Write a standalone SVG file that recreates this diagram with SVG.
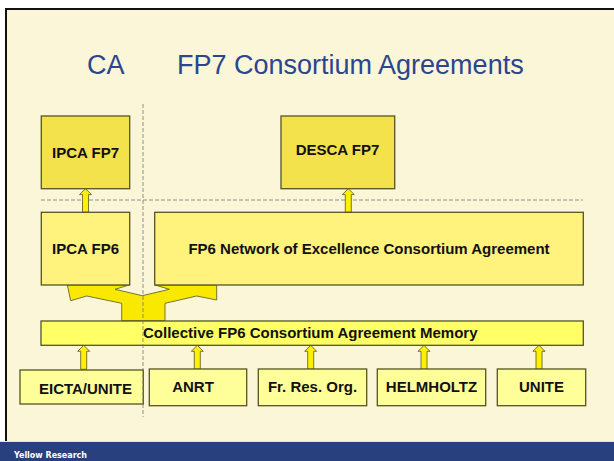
<svg xmlns="http://www.w3.org/2000/svg" width="614" height="461" viewBox="0 0 614 461">
<defs>
<style>
.box{stroke:#55551f;stroke-width:1.3}
.fp7{fill:#f3e24b}
.fp6{fill:#fff27d}
.mem{fill:#ffff66}
.src{fill:#ffff99}
.lbl{font-family:"Liberation Sans",Arial,sans-serif;font-weight:bold;font-size:15px;fill:#111;text-anchor:middle}
.arr{fill:#fff000;stroke:#55551f;stroke-width:0.8}
.dash{stroke:#777;stroke-width:0.8;stroke-dasharray:4 2;fill:none}
</style>
<path id="up" d="M-3,24 L-3,6 L-6,6 L0,0 L6,6 L3,6 L3,24 Z"/>
</defs>
<rect x="0" y="0" width="614" height="461" fill="#ffffff"/>
<rect x="6" y="9" width="610" height="440" fill="#faf6d7" stroke="#111" stroke-width="2"/>
<rect x="0" y="442" width="614" height="19" fill="#28417e"/>
<line x1="0" y1="441.5" x2="614" y2="441.5" stroke="#e8e4c8" stroke-width="1"/>
<text x="14" y="458" font-family="'DejaVu Sans Condensed','Liberation Sans',sans-serif" font-weight="bold" font-size="9.5" fill="#ffffff" textLength="73" lengthAdjust="spacingAndGlyphs">Yellow Research</text>
<text x="87" y="74" font-family="'Liberation Sans',Arial,sans-serif" font-size="27" fill="#2b4591">CA</text>
<text x="177" y="74" font-family="'Liberation Sans',Arial,sans-serif" font-size="27" fill="#2b4591">FP7 Consortium Agreements</text>
<g id="guides">
<line class="dash" x1="41" y1="200" x2="583" y2="200"/>
</g>
<g id="connectors">
<polygon class="arr" fill="#f9e800" points="67.3,285 70.7,300.7 86.7,296 121.7,303.3 121.7,320.7 165,320.7 165,303.3 196.7,296 216.7,300 216.7,285 155,285 169.3,289.3 142.3,295.7 115,289.3 129.3,285" style="fill:#f9e800"/>
<use href="#up" class="arr" transform="translate(85.5,188.7) scale(1,0.98)"/>
<use href="#up" class="arr" transform="translate(348.3,188.7) scale(1,0.98)"/>
<use href="#up" class="arr" transform="translate(83.7,345.3)"/>
<use href="#up" class="arr" transform="translate(197.3,345.3)"/>
<use href="#up" class="arr" transform="translate(310.7,345.3)"/>
<use href="#up" class="arr" transform="translate(424,345.3)"/>
<use href="#up" class="arr" transform="translate(539,345.3)"/>
</g>
<g id="ipca-fp7"><rect class="box fp7" x="41.3" y="116" width="88.4" height="72.7"/><text class="lbl" x="85.5" y="157.5">IPCA FP7</text></g>
<g id="desca-fp7"><rect class="box fp7" x="281" y="116" width="113.7" height="72.7"/><text class="lbl" x="337.5" y="154.5">DESCA FP7</text></g>
<g id="ipca-fp6"><rect class="box fp6" x="41.3" y="212.3" width="88.4" height="72.7"/><text class="lbl" x="85.5" y="254">IPCA FP6</text></g>
<g id="noe-fp6"><rect class="box fp6" x="154.7" y="212.3" width="428.6" height="72.7"/><text class="lbl" x="369" y="254">FP6 Network of Excellence Consortium Agreement</text></g>
<g id="memory"><rect class="box mem" x="41" y="321" width="542.3" height="24.3"/><text class="lbl" x="143" y="338" style="text-anchor:start">Collective FP6 Consortium Agreement Memory</text></g>
<g id="eicta"><rect class="box src" x="20" y="370" width="123.3" height="34"/><text class="lbl" x="85.5" y="393.5">EICTA/UNITE</text></g>
<g id="anrt"><rect class="box src" x="149.3" y="369" width="97.4" height="36.7"/><text class="lbl" x="193" y="392.3">ANRT</text></g>
<g id="frres"><rect class="box src" x="258.3" y="369" width="108.4" height="36.7"/><text class="lbl" x="312.5" y="392.3">Fr. Res. Org.</text></g>
<g id="helmholtz"><rect class="box src" x="377.3" y="369" width="108.4" height="36.7"/><text class="lbl" x="431.5" y="392.3">HELMHOLTZ</text></g>
<g id="unite"><rect class="box src" x="497.3" y="369" width="88.4" height="36.7"/><text class="lbl" x="541.5" y="392.3">UNITE</text></g>
<line class="dash" x1="143" y1="104" x2="143" y2="417"/>
</svg>
